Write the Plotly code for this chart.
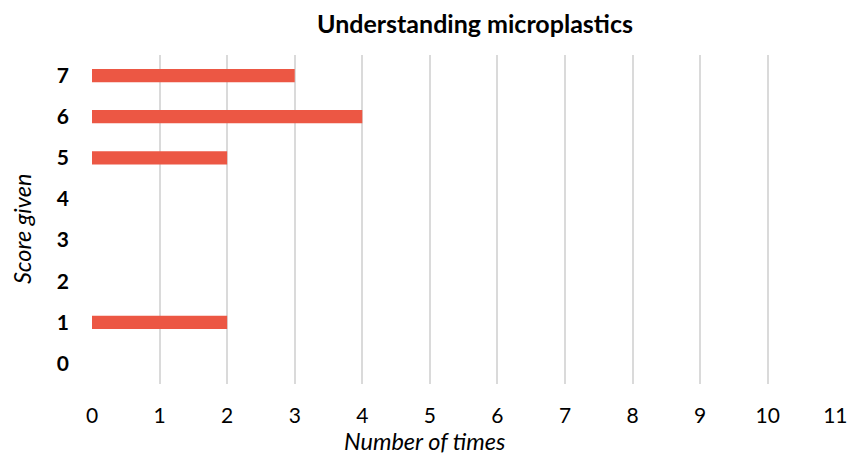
import plotly.graph_objects as go

scores = [0, 1, 2, 3, 4, 5, 6, 7]
counts = [0, 2, 0, 0, 0, 2, 4, 3]
x_ticks = list(range(0, 12))

W, H = 850, 457
L, R, T, B = 92, 14, 55, 73

fig = go.Figure()
fig.add_trace(go.Bar(
    x=counts, y=scores, orientation="h",
    marker=dict(color="#EC5744", line=dict(width=0)),
    width=0.32,
))

font_family = "Lato, 'Open Sans', sans-serif"

def px_x(px):
    return (px - L) / (W - L - R)

def px_y(py):
    return (H - B - py) / (H - T - B)

fig.update_layout(
    width=W, height=H,
    margin=dict(l=L, r=R, t=T, b=B, autoexpand=False),
    paper_bgcolor="white", plot_bgcolor="white",
    showlegend=False,
    font=dict(family=font_family, color="black"),
    annotations=[
        dict(text="<b>Understanding microplastics</b>", xref="paper", yref="paper",
             x=px_x(475), y=px_y(23), xanchor="center", yanchor="middle",
             showarrow=False, font=dict(family=font_family, size=25, color="black")),
        dict(text="<i>Number of times</i>", xref="paper", yref="paper",
             x=px_x(424), y=px_y(441), xanchor="center", yanchor="middle",
             showarrow=False, font=dict(family=font_family, size=23.5, color="black")),
        dict(text="<i>Score given</i>", xref="paper", yref="paper",
             x=px_x(22), y=px_y(229), xanchor="center", yanchor="middle",
             textangle=-90,
             showarrow=False, font=dict(family=font_family, size=23.5, color="black")),
    ],
)
fig.update_xaxes(
    range=[0, 11.01], tickvals=x_ticks, ticktext=[str(v) for v in x_ticks],
    showgrid=True, gridcolor="#DADADA", gridwidth=1.5,
    zeroline=False, showline=False, ticks="", automargin=False,
    ticklabelstandoff=17,
    tickfont=dict(size=21, family=font_family, color="black"),
)
fig.update_yaxes(
    range=[-0.5, 7.5], tickvals=scores, ticktext=[f"<b>{s}</b>" for s in scores],
    showgrid=False, zeroline=False, showline=False, ticks="", automargin=False,
    ticklabelstandoff=22,
    tickfont=dict(size=21, family=font_family, color="black"),
)

fig.write_html("out.html", config={"displayModeBar": False},
               post_script="document.body.style.margin='0';document.body.style.overflow='hidden';")
